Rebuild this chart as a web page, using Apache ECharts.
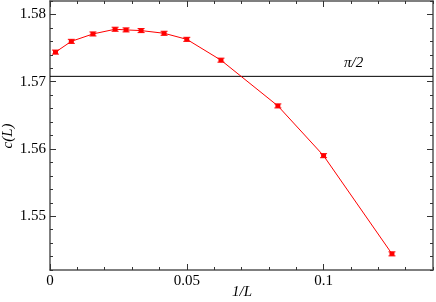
<!DOCTYPE html>
<html>
<head>
<meta charset="utf-8">
<script src="https://cdn.jsdelivr.net/npm/echarts@6/dist/echarts.min.js"></script>
<style>html,body{margin:0;padding:0;background:#fff}#c{width:436px;height:302px}</style>
</head>
<body>
<div id="c"></div>
<script>
var invL = [0.002, 0.0078, 0.0157, 0.0238, 0.0278, 0.0333, 0.0417, 0.05, 0.0625, 0.0833, 0.1, 0.125];
var cL   = [1.5744, 1.5760, 1.5771, 1.5778, 1.5777, 1.5776, 1.5772, 1.5763, 1.5732, 1.5664, 1.5590, 1.5444];
var cErr = [0.0003, 0.0003, 0.0003, 0.0003, 0.0003, 0.0003, 0.0003, 0.0003, 0.0003, 0.0003, 0.0003, 0.0003];
var piHalf = Math.PI / 2;
var xMajor = [0, 0.05, 0.1];
var yMajor = [1.55, 1.56, 1.57, 1.58];

var font = 'Liberation Serif';
var axisCol = '#555';
var pts = invL.map(function (x, i) { return [x, cL[i]]; });
var errs = invL.map(function (x, i) { return [x, cL[i] - cErr[i], cL[i] + cErr[i]]; });

function xAx(pos, major, labels) {
  return {
    type: 'value', position: pos, min: 0, max: 0.14, interval: 0.01,
    axisLine: { show: !major, onZero: false, lineStyle: { color: axisCol, width: 1.5 } },
    axisTick: major ? { inside: true, length: 6, customValues: xMajor, lineStyle: { color: '#333' } }
                    : { inside: true, length: 3, lineStyle: { color: '#333' } },
    axisLabel: labels ? { show: true, customValues: xMajor, fontFamily: font, fontSize: 15, color: '#000', margin: 4,
                          formatter: function (v) { return String(Math.round(v * 100) / 100); } } : { show: false },
    splitLine: { show: false }
  };
}
function yAx(pos, major, labels) {
  return {
    type: 'value', position: pos, min: 1.542, max: 1.582, interval: 0.002,
    axisLine: { show: !major, onZero: false, lineStyle: { color: axisCol, width: 1.5 } },
    axisTick: major ? { inside: true, length: 6, customValues: yMajor, lineStyle: { color: '#333' } }
                    : { inside: true, length: 3, lineStyle: { color: '#333' } },
    axisLabel: labels ? { show: true, customValues: yMajor, fontFamily: font, fontSize: 15, color: '#000', margin: 4,
                          formatter: function (v) { return v.toFixed(2); } } : { show: false },
    splitLine: { show: false }
  };
}

var chart = echarts.init(document.getElementById('c'), null, { renderer: 'canvas' });
chart.setOption({
  animation: false,
  backgroundColor: '#fff',
  grid: { left: 50, right: 3, top: 1, bottom: 32, containLabel: false, outerBoundsMode: 'none' },
  xAxis: [xAx('bottom', false, false), xAx('bottom', true, true), xAx('top', false, false), xAx('top', true, false)],
  yAxis: [yAx('left', false, false), yAx('left', true, true), yAx('right', false, false), yAx('right', true, false)],
  series: [
    {
      type: 'line', data: [[0, piHalf], [0.14, piHalf]], symbol: 'none',
      lineStyle: { color: '#000', width: 1 }, silent: true, z: 1
    },
    {
      type: 'line', data: pts, symbol: 'rect', symbolSize: [5, 4],
      itemStyle: { color: '#ff0000' }, lineStyle: { color: '#ff0000', width: 1 }, z: 3
    },
    {
      type: 'custom', data: errs, z: 4,
      renderItem: function (params, api) {
        var x = api.value(0);
        var lo = api.coord([x, api.value(1)]);
        var hi = api.coord([x, api.value(2)]);
        var w = 3.5;
        var st = { stroke: '#ff0000', lineWidth: 1 };
        return { type: 'group', children: [
          { type: 'line', shape: { x1: lo[0], y1: lo[1], x2: hi[0], y2: hi[1] }, style: st },
          { type: 'line', shape: { x1: lo[0] - w, y1: lo[1], x2: lo[0] + w, y2: lo[1] }, style: st },
          { type: 'line', shape: { x1: hi[0] - w, y1: hi[1], x2: hi[0] + w, y2: hi[1] }, style: st }
        ] };
      }
    }
  ]
});
var p = chart.convertToPixel({ xAxisIndex: 0, yAxisIndex: 0 }, [0.111, piHalf]);
chart.setOption({
  graphic: [
    { type: 'text', x: p[0], y: p[1] - 13,
      style: { text: 'π/2', fontFamily: font, fontSize: 15, fontStyle: 'italic', fill: '#000', align: 'center', verticalAlign: 'middle' } },
    { type: 'text', x: 242, y: 292,
      style: { text: '1/L', fontFamily: font, fontSize: 15, fontStyle: 'italic', fill: '#000', align: 'center', verticalAlign: 'middle' } },
    { type: 'text', x: 8, y: 136, rotation: Math.PI / 2,
      style: { text: 'c(L)', fontFamily: font, fontSize: 15, fontStyle: 'italic', fill: '#000', align: 'center', verticalAlign: 'middle' } }
  ]
});
</script>
</body>
</html>
